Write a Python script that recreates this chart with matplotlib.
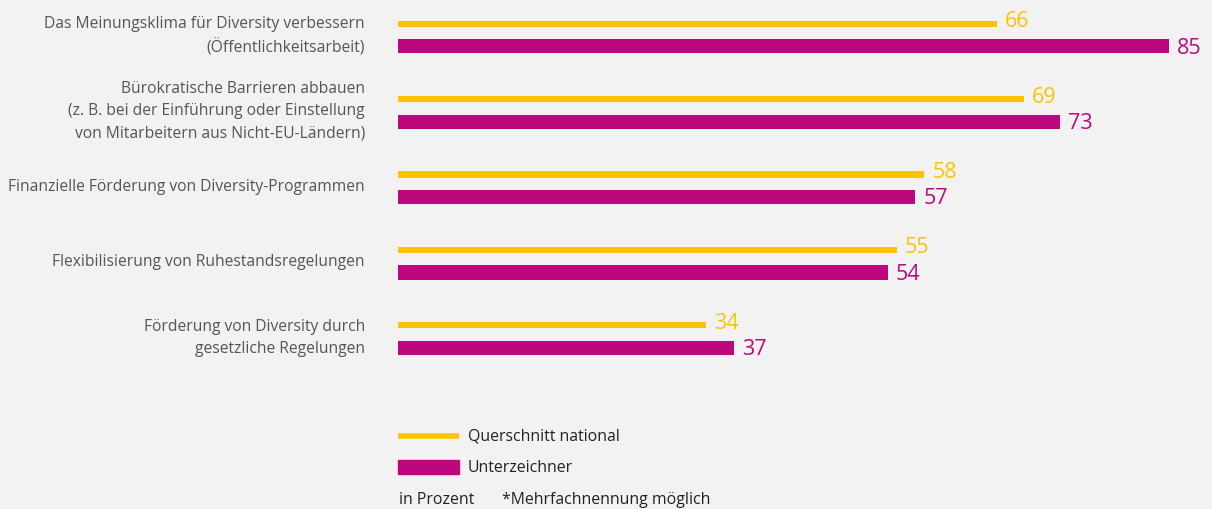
import matplotlib
matplotlib.use("Agg")
import matplotlib.pyplot as plt
from matplotlib.lines import Line2D
from matplotlib.patches import Rectangle
import numpy as np

categories = [
    "Das Meinungsklima für Diversity verbessern\n(Öffentlichkeitsarbeit)",
    "Bürokratische Barrieren abbauen\n(z. B. bei der Einführung oder Einstellung\nvon Mitarbeitern aus Nicht-EU-Ländern)",
    "Finanzielle Förderung von Diversity-Programmen",
    "Flexibilisierung von Ruhestandsregelungen",
    "Förderung von Diversity durch\ngesetzliche Regelungen",
]
querschnitt = [66, 69, 58, 55, 34]
unterzeichner = [85, 73, 57, 54, 37]
series_names = ["Querschnitt national", "Unterzeichner"]

YELLOW = "#fdc300"
MAGENTA = "#bd087d"
BG = "#f2f2f2"
GREY = "#555555"
FONT = ["Open Sans", "DejaVu Sans"]
plt.rcParams["font.family"] = FONT

W, H = 1212, 510
fig = plt.figure(figsize=(W / 100, H / 100), dpi=100, facecolor=BG)
PX_PER_UNIT = 9.07
ax_left = 398
ax = fig.add_axes([ax_left / W, 0, 1 - ax_left / W, 1])
ax.set_facecolor(BG)
ax.set_xlim(0, (W - ax_left) / PX_PER_UNIT)
STEP = 75.4
ax.set_ylim((H - 36) / STEP, -36 / STEP)
ax.axis("off")

y = np.arange(len(categories))
ax.barh(y - 0.15, querschnitt, height=0.08, color=YELLOW)
ax.barh(y + 0.15, unterzeichner, height=0.186, color=MAGENTA)

for yi, q, u in zip(y, querschnitt, unterzeichner):
    ax.text(q + 0.9, yi - 0.19, str(q), color=YELLOW, fontsize=15.5, va="center", ha="left")
    ax.text(u + 0.9, yi + 0.16, str(u), color=MAGENTA, fontsize=15.5, va="center", ha="left")

for yi, lab in zip(y, categories):
    fig.text(365 / W, 1 - (36 + STEP * yi) / H, lab, ha="right", va="center",
             color=GREY, fontsize=11.25, linespacing=1.5)

# legend
fig.add_artist(Line2D([398 / W, 459 / W], [1 - 437 / H, 1 - 437 / H],
                      color=YELLOW, lw=4, solid_capstyle="butt"))
fig.add_artist(Rectangle((398 / W, 1 - 475 / H), 61 / W, 14 / H,
                         color=MAGENTA, transform=fig.transFigure))
fig.text(468 / W, 1 - 437 / H, series_names[0], va="center", ha="left",
         color="#222222", fontsize=11.4)
fig.text(468 / W, 1 - 468 / H, series_names[1], va="center", ha="left",
         color="#222222", fontsize=11.4)
fig.text(399 / W, 1 - 500 / H, "in Prozent", va="center", ha="left",
         color="#222222", fontsize=11.4)
fig.text(502 / W, 1 - 500 / H, "*Mehrfachnennung möglich", va="center", ha="left",
         color="#222222", fontsize=11.4)

fig.savefig("out.png", dpi=100, facecolor=BG)
